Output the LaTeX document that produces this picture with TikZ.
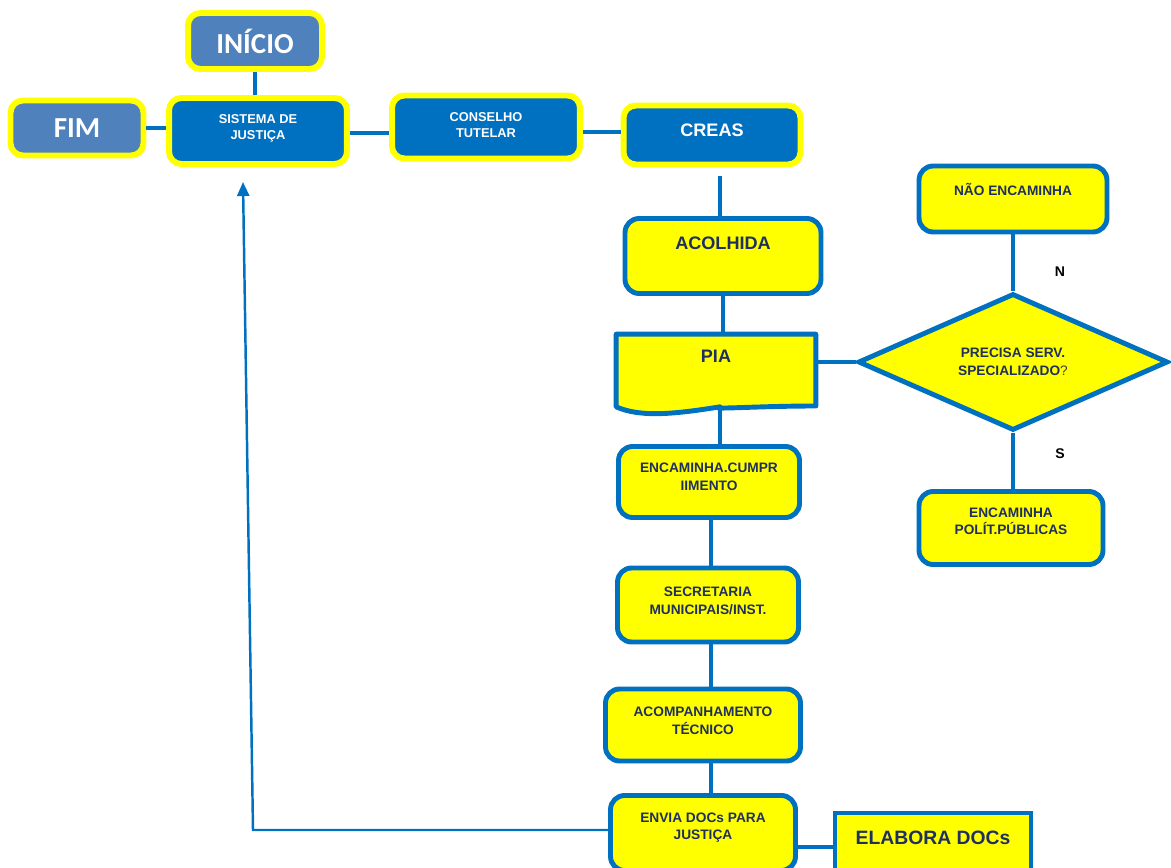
\documentclass[tikz,border=0pt]{standalone}
\usepackage{fontspec}
\setmainfont{Liberation Sans}
\newfontfamily\calibfont{Carlito}
\usetikzlibrary{arrows.meta, positioning, shapes.geometric, calc}

\definecolor{boxblue}{HTML}{0070C0}
\definecolor{paleblue}{HTML}{4F81BD}
\definecolor{navytext}{HTML}{1F2F5F}
\definecolor{brightyellow}{HTML}{FFFF00}

\begin{document}
\begin{tikzpicture}[
    x=0.02cm, y=-0.02cm,
    bluebox/.style={rectangle, draw=brightyellow, line width=3.4pt, rounded corners=7pt, fill=boxblue, text=white, align=center, font=\bfseries\fontsize{7.3}{9.5}\selectfont},
    endbox/.style={bluebox, fill=paleblue, font=\calibfont\bfseries\fontsize{16.5}{18}\selectfont},
    yellowbox/.style={rectangle, draw=boxblue, line width=2.8pt, rounded corners=8pt, fill=brightyellow, text=navytext, align=center, font=\bfseries\fontsize{7.8}{10}\selectfont},
    bigtext/.style={font=\bfseries\fontsize{10.3}{12}\selectfont},
    lift/.style={text depth=#1},
    decision/.style={diamond, draw=boxblue, line width=2.8pt, fill=brightyellow, text=navytext, align=center, inner sep=0pt, font=\bfseries\fontsize{7.8}{10}\selectfont},
    answer/.style={font=\bfseries\fontsize{8}{10}\selectfont},
    link/.style={draw=boxblue, line width=2.2pt},
    backlink/.style={draw=boxblue, line width=1.4pt, -{Triangle[length=0.28cm, width=0.24cm]}}
]
    \useasboundingbox (0,0) rectangle (1171,868);

    % top row
    \node[endbox, minimum width=2.68cm, minimum height=1.12cm] (inicio) at (255,41) {INÍCIO};
    \node[endbox, minimum width=2.66cm, minimum height=1.10cm] (fim) at (77,128) {FIM};
    \node[bluebox, minimum width=3.56cm, minimum height=1.32cm, lift=0.16cm] (justica) at (258,131) {SISTEMA DE\\JUSTIÇA};
    \node[bluebox, minimum width=3.76cm, minimum height=1.26cm, lift=0.08cm] (conselho) at (486,127) {CONSELHO\\TUTELAR};
    \node[bluebox, bigtext, minimum width=3.54cm, minimum height=1.18cm, lift=0.2cm] (creas) at (712,135) {CREAS};

    % main column
    \node[yellowbox, bigtext, minimum width=3.92cm, minimum height=1.5cm, lift=0.5cm] (acolhida) at (723,256) {ACOLHIDA};
    \node[minimum width=3.98cm, minimum height=1.5cm, inner sep=0pt] (pia) at (716,372) {};
    \filldraw[draw=boxblue, fill=brightyellow, line width=2.8pt, line join=round]
        (pia.north west) -- (pia.north east) -- ($(pia.east)+(0,34)$)
        .. controls ($(pia.east)+(-60,34)$) and ($(pia.east)+(-110,38)$) .. ($(pia.south)+(4,-3)$)
        .. controls ($(pia.south)+(-40,4)$) and ($(pia.south)+(-75,8)$) .. ($(pia.south west)+(0,-3)$) -- cycle;
    \node[bigtext, text=navytext] (piatext) at (716,356) {PIA};
    \node[yellowbox, minimum width=3.62cm, minimum height=1.42cm, lift=0.2cm] (cumprimento) at (709,482) {ENCAMINHA.CUMPR\\IIMENTO};
    \node[yellowbox, minimum width=3.62cm, minimum height=1.48cm, lift=0.16cm] (secretaria) at (708,605) {SECRETARIA\\MUNICIPAIS/INST.};
    \node[yellowbox, minimum width=3.9cm, minimum height=1.44cm, lift=0.18cm] (acomp) at (703,725) {ACOMPANHAMENTO\\TÉCNICO};
    \node[yellowbox, minimum width=3.7cm, minimum height=1.5cm, lift=0.28cm] (envia) at (703,833) {ENVIA DOCs PARA\\JUSTIÇA};
    \node[yellowbox, rounded corners=0pt, font=\bfseries\fontsize{11}{13}\selectfont, minimum width=3.92cm, minimum height=1.36cm, lift=0.36cm] (elabora) at (933,847) {ELABORA DOCs};

    % decision branch
    \node[decision, minimum width=6.2cm, minimum height=2.62cm] (precisa) at (1013,362) {PRECISA SERV.\\SPECIALIZADO{\mdseries\color{darkgray}?}};
    \node[yellowbox, minimum width=3.76cm, minimum height=1.32cm, lift=0.4cm] (naoenc) at (1013,199) {NÃO ENCAMINHA};
    \node[yellowbox, minimum width=3.68cm, minimum height=1.46cm, lift=0.28cm] (politicas) at (1011,528) {ENCAMINHA\\POLÍT.PÚBLICAS};
    \node[answer] (lblN) at (1060,272) {N};
    \node[answer] (lblS) at (1060,454) {S};

    % connectors
    \draw[link] (inicio.south) -- (inicio.south |- justica.north);
    \draw[link] (fim.east) -- (fim.east -| justica.west);
    \draw[link] ($(justica.east)+(0,2)$) -- ($(conselho.west)+(0,6)$);
    \draw[link] ($(conselho.east)+(0,5)$) -- ($(creas.west)+(0,-3)$);
    \draw[link] ($(creas.south)+(8,9)$) -- ($(acolhida.north)+(-3,0)$);
    \draw[link] (acolhida.south) -- (acolhida.south |- pia.north);
    \draw[link] (precisa.west) -- (precisa.west -| pia.east);
    \draw[link] (precisa.north) -- (precisa.north |- naoenc.south);
    \draw[link] (precisa.south) -- (precisa.south |- politicas.north);
    \draw[link] ($(pia.south)+(4,-4)$) -- ($(cumprimento.north)+(11,0)$);
    \draw[link] ($(cumprimento.south)+(2,0)$) -- ($(secretaria.north)+(3,0)$);
    \draw[link] ($(secretaria.south)+(3,0)$) -- ($(acomp.north)+(8,0)$);
    \draw[link] ($(acomp.south)+(8,0)$) -- ($(envia.north)+(8,0)$);
    \draw[link] (elabora.west) -- (elabora.west -| envia.east);
    \coordinate (backtip) at ($(justica.south)+(-15,15)$);
    \coordinate (backturn) at (253,830);
    \draw[backlink] ($(envia.west)+(0,-3)$) -- (backturn) -- (backtip);
\end{tikzpicture}
\end{document}
